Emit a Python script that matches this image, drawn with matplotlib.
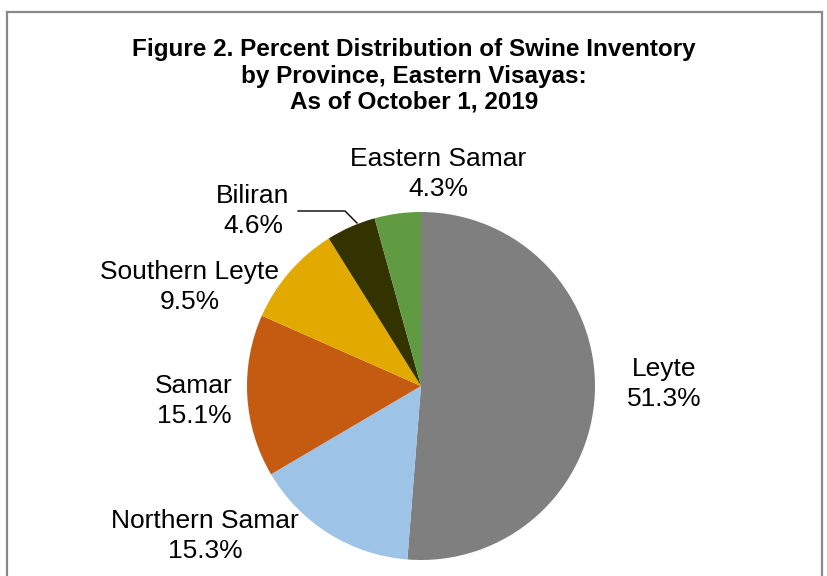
import matplotlib.pyplot as plt
from matplotlib.patches import Rectangle

plt.rcParams['font.family'] = ['Liberation Sans', 'DejaVu Sans']

provinces = ['Leyte', 'Northern Samar', 'Samar', 'Southern Leyte', 'Biliran', 'Eastern Samar']
shares = [51.3, 15.3, 15.1, 9.5, 4.6, 4.3]
colors = ['#7f7f7f', '#9dc3e6', '#c55a11', '#e2aa00', '#333300', '#609b41']

# label centres in pixels (x, y from top), figure is 828x576
label_pos = [(664, 384), (205, 536), (194, 401), (190, 287), (253, 211), (438, 174)]

W, H = 828, 576
cx, cy, r = 421, 386, 174

fig = plt.figure(figsize=(W / 100, H / 100), dpi=100)

# outer chart border (bottom is cut off in the original)
fig.patches.append(Rectangle((7 / W, -0.1), 815 / W, 1.1 - 12 / H, transform=fig.transFigure,
                             fill=False, edgecolor='#898989', linewidth=1.6))

fig.text(414 / W, 1 - 76 / H, 'Figure 2. Percent Distribution of Swine Inventory\n'
         'by Province, Eastern Visayas:\nAs of October 1, 2019',
         ha='center', va='center', fontsize=17.5, fontweight='bold', linespacing=1.17)

ax = fig.add_axes([(cx - r) / W, (H - cy - r) / H, 2 * r / W, 2 * r / H])
ax.pie(shares, colors=colors, startangle=90, counterclock=False,
       wedgeprops=dict(linewidth=0))
ax.set_xlim(-1, 1)
ax.set_ylim(-1, 1)
ax.axis('off')

for name, val, (px, py) in zip(provinces, shares, label_pos):
    ax.text((px - cx) / r, (cy - py) / r, f'{name}\n{val:.1f}%', ha='center', va='center',
            fontsize=19, linespacing=1.27, clip_on=False)

# leader line for Biliran
ax.plot([(298 - cx) / r, (345 - cx) / r, (357 - cx) / r],
        [(cy - 211) / r, (cy - 211) / r, (cy - 223) / r],
        color='black', linewidth=1, clip_on=False)

fig.savefig('out.png', dpi=100)
